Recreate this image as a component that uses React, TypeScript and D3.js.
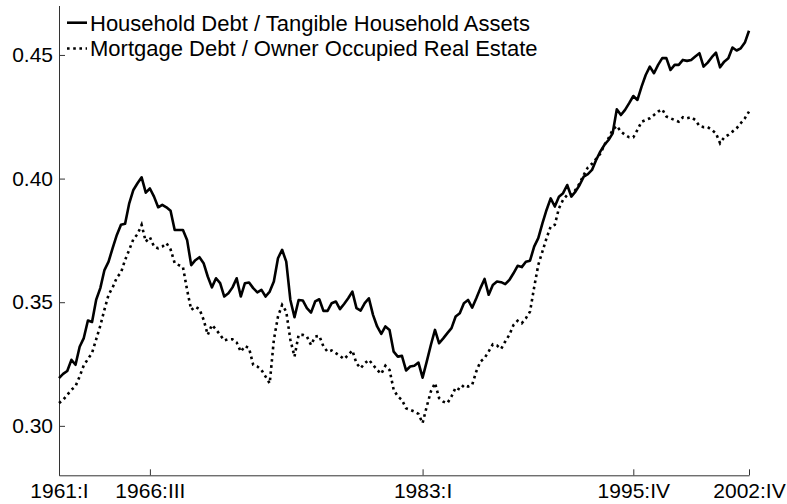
import React, { useEffect, useRef } from 'react';
import * as d3 from 'd3';

// quarterly ratios, 1961:I .. 2002:IV (168 quarters)
const householdDebt: number[] = [
  0.3193, 0.321, 0.3222, 0.3267, 0.3247, 0.332, 0.3355, 0.3426, 0.342, 0.351,
  0.3557, 0.363, 0.3664, 0.372, 0.3772, 0.3813, 0.3817, 0.39, 0.3954, 0.3981,
  0.4005, 0.3943, 0.396, 0.3927, 0.3884, 0.3894, 0.3884, 0.387, 0.3792, 0.3792,
  0.3792, 0.3752, 0.365, 0.367, 0.3682, 0.3658, 0.3604, 0.356, 0.3597, 0.3577,
  0.3523, 0.3536, 0.356, 0.3597, 0.3523, 0.3577, 0.358, 0.3557, 0.354, 0.355,
  0.3523, 0.3543, 0.3584, 0.3678, 0.3712, 0.3664, 0.3509, 0.3439, 0.3509, 0.3507,
  0.3476, 0.3458, 0.3503, 0.3512, 0.3465, 0.3465, 0.3496, 0.3503, 0.3472, 0.3493,
  0.3516, 0.3543, 0.3476, 0.3466, 0.3496, 0.3516, 0.3449, 0.3402, 0.3372, 0.3402,
  0.3388, 0.33, 0.328, 0.3283, 0.3224, 0.324, 0.3243, 0.3256, 0.3195, 0.326,
  0.3327, 0.3388, 0.3334, 0.3354, 0.3375, 0.3395, 0.3442, 0.3455, 0.3496, 0.3509,
  0.3478, 0.3516, 0.3557, 0.3594, 0.353, 0.357, 0.3584, 0.3581, 0.3573, 0.359,
  0.3617, 0.3647, 0.3642, 0.3664, 0.3668, 0.3725, 0.3759, 0.3819, 0.3873, 0.392,
  0.3887, 0.3927, 0.3941, 0.3974, 0.3927, 0.3947, 0.3974, 0.4008, 0.4018, 0.4035,
  0.4075, 0.4109, 0.4136, 0.4156, 0.4183, 0.428, 0.4257, 0.4278, 0.4305, 0.4334,
  0.4318, 0.4372, 0.4419, 0.4453, 0.4426, 0.446, 0.4487, 0.4487, 0.4439, 0.446,
  0.446, 0.448, 0.4476, 0.448, 0.4494, 0.4507, 0.4453, 0.4469, 0.4491, 0.4509,
  0.445, 0.4473, 0.4487, 0.453, 0.4518, 0.4527, 0.455, 0.4598,
];

const mortgageDebt: number[] = [
  0.3092, 0.3105, 0.3125, 0.3146, 0.316, 0.32, 0.3245, 0.327, 0.3295, 0.335,
  0.3405, 0.347, 0.353, 0.356, 0.36, 0.362, 0.3671, 0.3712, 0.3755, 0.3775,
  0.3813, 0.3745, 0.3763, 0.3725, 0.3718, 0.3725, 0.3739, 0.3714, 0.3658, 0.365,
  0.3642, 0.355, 0.3469, 0.3482, 0.3472, 0.3429, 0.3368, 0.3408, 0.339, 0.3368,
  0.3345, 0.335, 0.335, 0.3337, 0.33, 0.3323, 0.3314, 0.3247, 0.324, 0.3226,
  0.3199, 0.3172, 0.3348, 0.3442, 0.3489, 0.3462, 0.3348, 0.328, 0.3368, 0.3368,
  0.3361, 0.3327, 0.3361, 0.3364, 0.3321, 0.33, 0.3305, 0.3294, 0.3283, 0.327,
  0.3287, 0.3305, 0.3253, 0.3233, 0.3253, 0.3267, 0.3247, 0.3226, 0.321, 0.3243,
  0.3226, 0.3146, 0.3119, 0.3105, 0.3071, 0.3065, 0.3058, 0.3048, 0.3011, 0.3078,
  0.3139, 0.3173, 0.3112, 0.3098, 0.3092, 0.3119, 0.3155, 0.3146, 0.3166, 0.3159,
  0.3166, 0.322, 0.326, 0.3274, 0.3301, 0.333, 0.3325, 0.3311, 0.3341, 0.3368,
  0.3408, 0.3425, 0.3415, 0.3435, 0.3462, 0.356, 0.3651, 0.3705, 0.3759, 0.3806,
  0.3813, 0.388, 0.3914, 0.3934, 0.3934, 0.3954, 0.3981, 0.4015, 0.4045, 0.406,
  0.408, 0.41, 0.4136, 0.4163, 0.4197, 0.4213, 0.419, 0.4177, 0.4167, 0.4167,
  0.4197, 0.423, 0.4237, 0.4244, 0.4257, 0.4271, 0.428, 0.4251, 0.4244, 0.4237,
  0.423, 0.4248, 0.4244, 0.4248, 0.4237, 0.4213, 0.4208, 0.4208, 0.4197, 0.4183,
  0.4143, 0.4167, 0.4177, 0.419, 0.4203, 0.4224, 0.4244, 0.4271,
];

const xTickIndex = [0, 22, 88, 139, 167];
const xTickLabels = ['1961:I', '1966:III', '1983:I', '1995:IV', '2002:IV'];
const yTicks = [0.3, 0.35, 0.4, 0.45];
const seriesNames = [
  'Household Debt / Tangible Household Assets',
  'Mortgage Debt / Owner Occupied Real Estate',
];

const width = 787;
const height = 504;
const font = '"Liberation Sans", Arial, Helvetica, sans-serif';

const App: React.FC = () => {
  const ref = useRef<SVGSVGElement>(null);

  useEffect(() => {
    if (!ref.current) return;
    const svg = d3.select(ref.current);
    svg.selectAll('*').remove();

    const x = d3.scaleLinear().domain([0, householdDebt.length - 1]).range([59, 749]);
    const y = d3.scaleLinear().domain([0.28, 0.47]).range([475.3, 5.5]);

    const line = d3
      .line<number>()
      .x((_, i) => x(i))
      .y((d) => y(d));

    // axes, ticks pointing inward
    const yAxis = d3
      .axisLeft(y)
      .tickValues(yTicks)
      .tickFormat(d3.format('.2f'))
      .tickSizeInner(-6)
      .tickSizeOuter(0)
      .tickPadding(6);

    const xAxis = d3
      .axisBottom(x)
      .tickValues(xTickIndex)
      .tickFormat((d, i) => xTickLabels[i])
      .tickSizeInner(-6)
      .tickSizeOuter(0)
      .tickPadding(8);

    const gy = svg.append('g').attr('transform', 'translate(59,0)').call(yAxis);
    const gx = svg.append('g').attr('transform', 'translate(0,475.3)').call(xAxis);

    [gx, gy].forEach((g) => {
      g.select('.domain').attr('stroke', '#333');
      g.selectAll('.tick line').attr('stroke', '#333');
      g.selectAll('.tick text')
        .attr('fill', '#000')
        .style('font-family', font)
        .style('font-size', '21px');
    });

    svg
      .append('path')
      .datum(householdDebt)
      .attr('d', line)
      .attr('fill', 'none')
      .attr('stroke', '#000')
      .attr('stroke-width', 2.6)
      .attr('stroke-linejoin', 'round');

    svg
      .append('path')
      .datum(mortgageDebt)
      .attr('d', line)
      .attr('fill', 'none')
      .attr('stroke', '#000')
      .attr('stroke-width', 2.6)
      .attr('stroke-dasharray', '2.6,3.6');

    // legend
    const legend = svg.append('g');
    const rows = [
      { name: seriesNames[0], dash: null, y: 22.7 },
      { name: seriesNames[1], dash: '2.6,3.6', y: 48.5 },
    ];
    rows.forEach((r) => {
      legend
        .append('line')
        .attr('x1', 67)
        .attr('x2', 87)
        .attr('y1', r.y)
        .attr('y2', r.y)
        .attr('stroke', '#000')
        .attr('stroke-width', 2.6)
        .attr('stroke-dasharray', r.dash);
      legend
        .append('text')
        .attr('x', 90)
        .attr('y', r.y)
        .attr('dy', '0.36em')
        .style('font-family', font)
        .style('font-size', '22px')
        .text(r.name);
    });
  }, []);

  return (
    <svg
      ref={ref}
      width={width}
      height={height}
      style={{ position: 'absolute', left: 0, top: 0, background: '#fff' }}
    />
  );
};

export default App;
